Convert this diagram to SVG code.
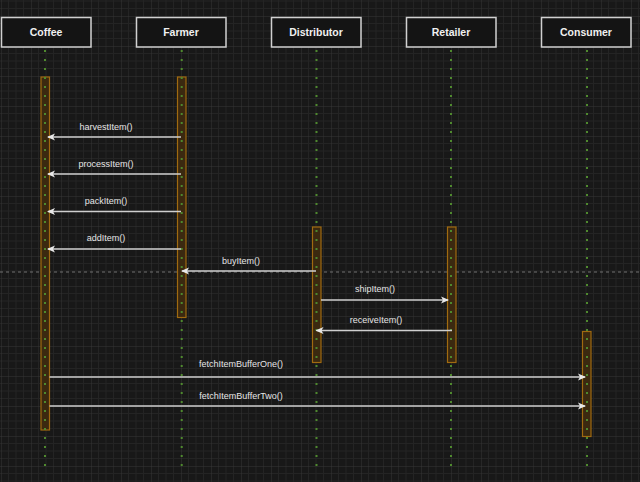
<svg xmlns="http://www.w3.org/2000/svg" width="640" height="482" viewBox="0 0 640 482">
<style>
.hdr rect{fill:#141414;stroke:#d0d0d0;stroke-width:1.5}
.hdr text{font-family:"Liberation Sans",Arial,sans-serif;font-size:10.5px;font-weight:bold;fill:#f0f0f0;text-anchor:middle}
.bar{fill:#3b2910;stroke:#a06a10;stroke-width:1.2}
.life{stroke:#4f8a2e;stroke-width:2;stroke-dasharray:2 7}
.msg line{stroke:#cfcfcf;stroke-width:1.4;marker-end:url(#ah)}
.msg text{font-family:"Liberation Sans",Arial,sans-serif;font-size:9px;fill:#e6e6e6;text-anchor:middle}
</style>
<defs>
<pattern id="grid" x="1" y="16" width="30" height="30" patternUnits="userSpaceOnUse">
<path d="M7.5 0V30M15 0V30M22.5 0V30M0 7.5H30M0 15H30M0 22.5H30" stroke="#242424" stroke-width="1" fill="none"/>
<path d="M0 0V30M0 0H30" stroke="#363636" stroke-width="1" fill="none"/>
</pattern>
<marker id="ah" viewBox="0 0 8 8" refX="7" refY="4" markerWidth="8" markerHeight="8" markerUnits="userSpaceOnUse" orient="auto">
<path d="M0,0.5 L8,4 L0,7.5 L2,4 Z" fill="#e8e8e8"/>
</marker>
</defs>
<rect width="640" height="482" fill="#181818"/>
<rect width="640" height="482" fill="url(#grid)"/>
<line x1="0" y1="272" x2="640" y2="272" stroke="#707070" stroke-width="1" stroke-dasharray="3 3"/>

<g id="coffee" class="hdr"><rect x="1.5" y="17.5" width="89.5" height="29.5"/><text x="46" y="36">Coffee</text></g>
<g id="farmer" class="hdr"><rect x="136.5" y="17.5" width="89.5" height="29.5"/><text x="181" y="36">Farmer</text></g>
<g id="distributor" class="hdr"><rect x="271.5" y="17.5" width="89.5" height="29.5"/><text x="316" y="36">Distributor</text></g>
<g id="retailer" class="hdr"><rect x="406.5" y="17.5" width="89.5" height="29.5"/><text x="451" y="36">Retailer</text></g>
<g id="consumer" class="hdr"><rect x="541.5" y="17.5" width="89.5" height="29.5"/><text x="586" y="36">Consumer</text></g>

<g id="activations">
<rect class="bar" x="41" y="77" width="8.5" height="353"/>
<rect class="bar" x="177.5" y="77" width="8.5" height="240.5"/>
<rect class="bar" x="312.5" y="227" width="8.5" height="135.5"/>
<rect class="bar" x="447.5" y="227" width="8.5" height="135.5"/>
<rect class="bar" x="582.5" y="331.5" width="8.5" height="105"/>
</g>

<g id="lifelines">
<line class="life" x1="45" y1="50" x2="45" y2="467"/>
<line class="life" x1="181.7" y1="50" x2="181.7" y2="467"/>
<line class="life" x1="316.5" y1="50" x2="316.5" y2="467"/>
<line class="life" x1="451" y1="50" x2="451" y2="467"/>
<line class="life" x1="587" y1="50" x2="587" y2="467"/>
</g>

<g id="connectors" class="msg">
<line x1="181" y1="137" x2="48" y2="137"/><text x="106" y="130">harvestItem()</text>
<line x1="181" y1="174" x2="48" y2="174"/><text x="106" y="167">processItem()</text>
<line x1="181" y1="211.5" x2="48" y2="211.5"/><text x="106" y="204">packItem()</text>
<line x1="181" y1="249" x2="48" y2="249"/><text x="106" y="241">addItem()</text>
<line x1="316" y1="271" x2="182" y2="271"/><text x="241" y="264">buyItem()</text>
<line x1="321" y1="300" x2="448" y2="300"/><text x="375" y="292">shipItem()</text>
<line x1="452" y1="330.5" x2="316.5" y2="330.5"/><text x="376" y="323">receiveItem()</text>
<line x1="49.5" y1="377" x2="585" y2="377"/><text x="241" y="367">fetchItemBufferOne()</text>
<line x1="49.5" y1="406" x2="585" y2="406"/><text x="241" y="399">fetchItemBufferTwo()</text>
</g>
</svg>
